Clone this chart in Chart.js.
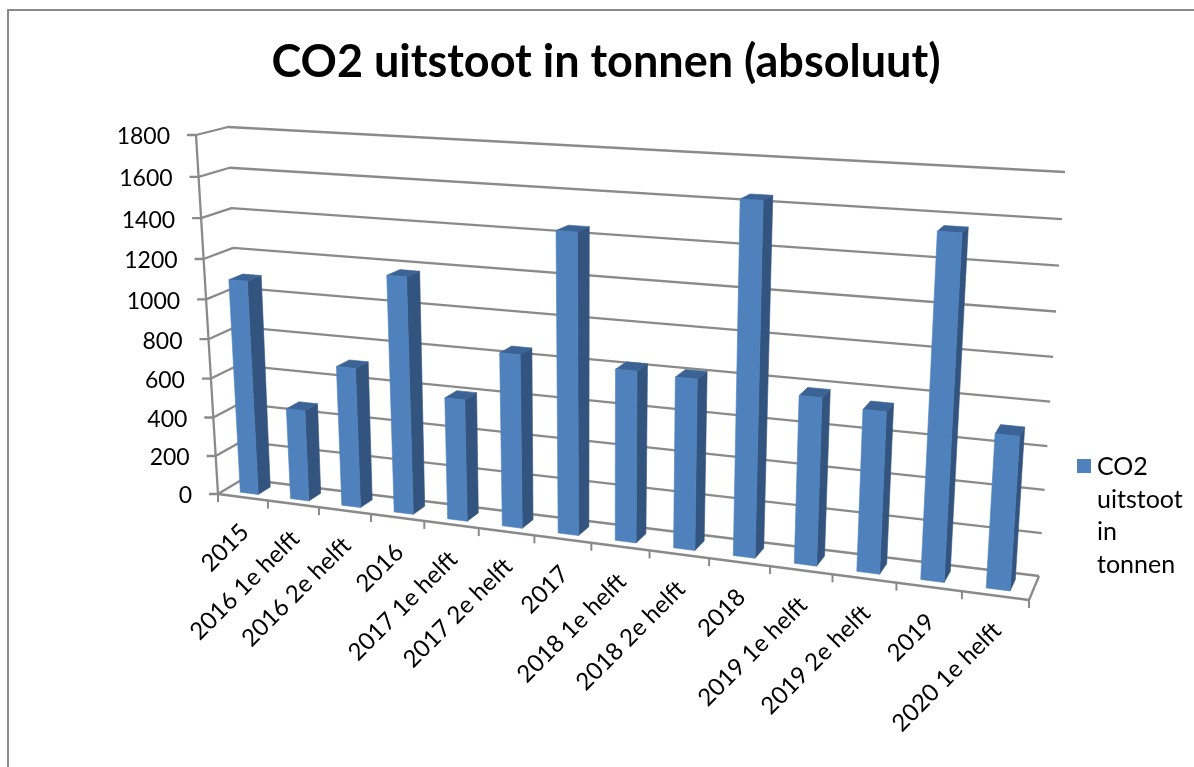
<!DOCTYPE html>
<html>
<head>
<meta charset="utf-8">
<title>CO2 uitstoot in tonnen</title>
<script src="https://cdn.jsdelivr.net/npm/chart.js@4"></script>
<style>
  html, body { margin: 0; padding: 0; background: #fff; }
  #wrap { width: 1194px; height: 767px; }
</style>
</head>
<body>
<div id="wrap"><canvas id="chart" width="1194" height="767"></canvas></div>
<script>
const categories = ['2015', '2016 1e helft', '2016 2e helft', '2016', '2017 1e helft', '2017 2e helft', '2017',
  '2018 1e helft', '2018 2e helft', '2018', '2019 1e helft', '2019 2e helft', '2019', '2020 1e helft'];
const co2Values = [1090, 465, 705, 1175, 605, 850, 1445, 825, 815, 1640, 785, 750, 1555, 700];
const seriesName = 'CO2 uitstoot in tonnen';
const legendLines = ['CO2', 'uitstoot', 'in', 'tonnen'];
const yMax = 1800;
const yStep = 200;

const FONT = 'Lato, Carlito, sans-serif';
const GREY = '#8a8a8a';
const FRONT = '#4f81bd', SIDE = '#33547f', TOP = '#3c6396';

// ── 3D BOX ────────────────────────────────────────────────────────────────────
// corners of the front and back planes: bottom-left, bottom-right, top-right, top-left
const frontPlane = homography([[218, 494], [1029, 600], [1056, 182], [196, 135]]);
const backPlane  = homography([[243, 479], [1039, 576], [1065, 172], [228, 127]]);
const barDepth = [0.26, 0.74];

function homography(q) {
  const [[x0, y0], [x1, y1], [x2, y2], [x3, y3]] = q;
  const dx1 = x1 - x2, dx2 = x3 - x2, sx = x0 - x1 + x2 - x3;
  const dy1 = y1 - y2, dy2 = y3 - y2, sy = y0 - y1 + y2 - y3;
  const den = dx1 * dy2 - dx2 * dy1;
  const g = (sx * dy2 - dx2 * sy) / den;
  const h = (dx1 * sy - sx * dy1) / den;
  const a = x1 - x0 + g * x1, b = x3 - x0 + h * x3;
  const d = y1 - y0 + g * y1, e = y3 - y0 + h * y3;
  return (u, v) => {
    const w = g * u + h * v + 1;
    return [(a * u + b * v + x0) / w, (d * u + e * v + y0) / w];
  };
}

// u along the categories, v up the value axis, d from front (0) to back (1)
function project(u, v, d) {
  const f = frontPlane(u, v), b = backPlane(u, v);
  return [f[0] + (b[0] - f[0]) * d, f[1] + (b[1] - f[1]) * d];
}

function line(ctx, pts, color, width) {
  ctx.beginPath();
  pts.forEach((p, i) => i ? ctx.lineTo(p[0], p[1]) : ctx.moveTo(p[0], p[1]));
  ctx.strokeStyle = color;
  ctx.lineWidth = width;
  ctx.stroke();
}

function poly(ctx, pts, color) {
  ctx.beginPath();
  pts.forEach((p, i) => i ? ctx.lineTo(p[0], p[1]) : ctx.moveTo(p[0], p[1]));
  ctx.closePath();
  ctx.fillStyle = color;
  ctx.fill();
  // thin outline in the same colour closes the seam between faces
  ctx.strokeStyle = color;
  ctx.lineWidth = 0.6;
  ctx.stroke();
}

// ── DRAW PLUGIN ───────────────────────────────────────────────────────────────
const box3d = {
  id: 'box3d',
  beforeDraw(chart) {
    const ctx = chart.ctx;
    ctx.save();
    ctx.fillStyle = '#fff';
    ctx.fillRect(0, 0, chart.width, chart.height);
    line(ctx, [[8, chart.height], [8, 10], [chart.width, 10]], GREY, 2);
    ctx.restore();
  },
  beforeDatasetsDraw(chart) {
    const ctx = chart.ctx;
    const area = chart.chartArea;
    const xs = chart.scales.x, ys = chart.scales.y;
    const toU = (px) => (px - area.left) / area.width;
    const toV = (px) => (area.bottom - px) / area.height;

    ctx.save();
    ctx.lineJoin = 'round';

    // gridlines on side and back wall, y ticks and labels
    ctx.font = '23px ' + FONT;
    ctx.fillStyle = '#000';
    ctx.textAlign = 'right';
    ctx.textBaseline = 'middle';
    ys.ticks.forEach(t => {
      const v = toV(ys.getPixelForValue(t.value));
      const f = project(0, v, 0);
      line(ctx, [[f[0] - 9, f[1]], f, project(0, v, 1), project(1, v, 1)], GREY, 2.3);
      ctx.fillText(String(t.value), f[0] - 26, f[1] + 2);
    });

    // axis lines and floor
    line(ctx, [project(0, 1, 0), project(0, 0, 0), project(1, 0, 0), project(1, 0, 1)], GREY, 2.3);

    // category ticks
    categories.forEach((c, i) => {
      const u = toU(i === 0 ? area.left : (xs.getPixelForValue(i - 1) + xs.getPixelForValue(i)) / 2);
      const p = project(u, 0, 0);
      line(ctx, [p, [p[0], p[1] + 8]], GREY, 2);
    });
    const end = project(1, 0, 0);
    line(ctx, [end, [end[0], end[1] + 8]], GREY, 2);

    // bars
    chart.getDatasetMeta(0).data.forEach((bar) => {
      const u0 = toU(bar.x - bar.width / 2), u1 = toU(bar.x + bar.width / 2);
      const vt = toV(bar.y), vb = toV(bar.base);
      const [d0, d1] = barDepth;
      poly(ctx, [project(u1, vb, d0), project(u1, vb, d1), project(u1, vt, d1), project(u1, vt, d0)], SIDE);
      poly(ctx, [project(u0, vt, d0), project(u1, vt, d0), project(u1, vt, d1), project(u0, vt, d1)], TOP);
      poly(ctx, [project(u0, vb, d0), project(u1, vb, d0), project(u1, vt, d0), project(u0, vt, d0)], FRONT);
    });

    // category labels, rotated under the front edge
    ctx.font = '24px ' + FONT;
    ctx.fillStyle = '#000';
    ctx.textAlign = 'right';
    ctx.textBaseline = 'middle';
    categories.forEach((c, i) => {
      const p = project(toU(xs.getPixelForValue(i)), 0, 0);
      ctx.save();
      ctx.translate(p[0] + 2, p[1] + 31);
      ctx.rotate(-Math.PI / 4);
      ctx.fillText(c, 0, 0);
      ctx.restore();
    });

    // legend
    ctx.font = '25px ' + FONT;
    ctx.fillStyle = FRONT;
    ctx.fillRect(1077, 459, 14, 14);
    ctx.fillStyle = '#000';
    ctx.textAlign = 'left';
    legendLines.forEach((t, i) => ctx.fillText(t, 1097, 467 + i * 32.5));

    ctx.restore();
    return false;
  }
};

new Chart(document.getElementById('chart'), {
  type: 'bar',
  data: {
    labels: categories,
    datasets: [{
      label: seriesName,
      data: co2Values,
      backgroundColor: FRONT,
      barPercentage: 0.36,
      categoryPercentage: 1
    }]
  },
  options: {
    responsive: false,
    animation: false,
    events: [],
    layout: { padding: { left: 18 } },
    plugins: {
      legend: { display: false },
      tooltip: { enabled: false },
      title: {
        display: true,
        text: 'CO2 uitstoot in tonnen (absoluut)',
        color: '#000',
        font: { family: FONT, size: 45, weight: 'bold' },
        padding: { top: 35, bottom: 20 }
      }
    },
    scales: {
      x: { display: false },
      y: { display: false, min: 0, max: yMax, ticks: { stepSize: yStep } }
    }
  },
  plugins: [box3d]
});
</script>
</body>
</html>
